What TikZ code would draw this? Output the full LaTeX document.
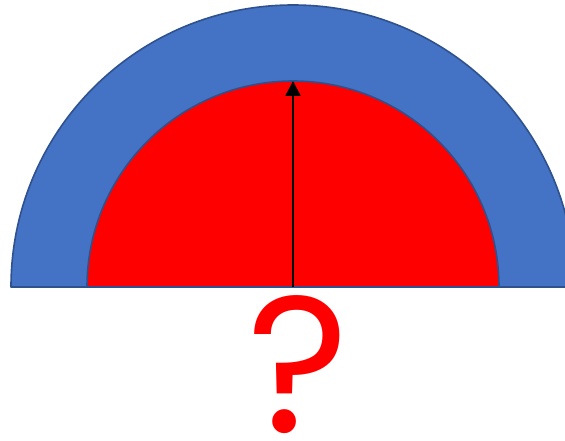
\documentclass[tikz,border=0pt]{standalone}
\usepackage{fontspec}
\usepackage{xcolor}
\usepackage{tikz}
\usetikzlibrary{arrows.meta}
\newfontfamily\qfont{Poppins}
\definecolor{shellBlue}{HTML}{4472C4}
\definecolor{shellEdge}{HTML}{2F528F}
\definecolor{coreRed}{HTML}{FF0000}

\begin{document}
\begin{tikzpicture}[
  x=1pt,y=1pt,
  shell/.style={draw=shellEdge,line width=1.6pt,fill=shellBlue,line join=round},
  core/.style={draw=shellEdge,line width=1.6pt,fill=coreRed,line join=round},
  radius arrow/.style={-{Triangle[length=15pt,width=15pt]},line width=2.4pt,color=black},
  qmark/.style={font=\qfont\fontsize{194}{194}\selectfont,text=coreRed,inner sep=0pt}
]
\useasboundingbox (-293,-154) rectangle (272,287);
\clip (-293,-154) rectangle (272,287);
% outer half disk
\draw[shell] (282,0) arc[start angle=0,end angle=180,radius=282pt] -- cycle;
% inner half disk
\draw[core] (206,0) arc[start angle=0,end angle=180,radius=206pt] -- cycle;
\coordinate (centre) at (0,0);
\coordinate (apex) at (0,206);
\draw[radius arrow] (centre) -- (apex);
\node[qmark,anchor=base] (query) at (5,-146) {?};
\end{tikzpicture}
\end{document}
